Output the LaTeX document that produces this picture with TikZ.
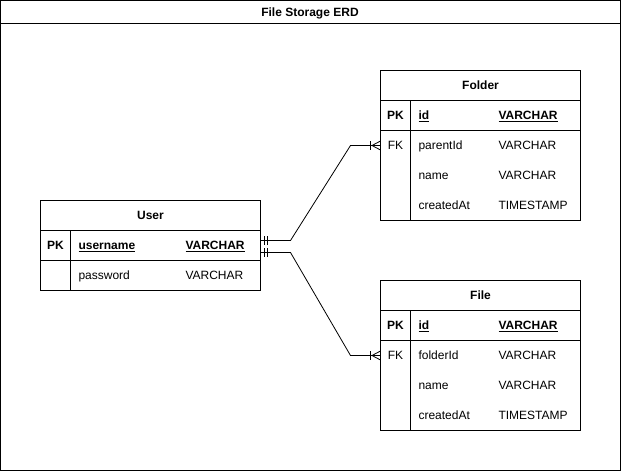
\documentclass[tikz,border=0pt]{standalone}
\usepackage{fontspec}
\setmainfont{Liberation Sans}
\usetikzlibrary{calc}
\begin{document}
\begin{tikzpicture}[x=1pt,y=-1pt,line width=1pt,
  txt/.style={inner sep=0pt,font=\fontsize{12}{14}\selectfont},
  lft/.style={txt,anchor=base west},
  ctr/.style={txt,anchor=base},
  bld/.style={font=\fontsize{12}{14}\selectfont\bfseries},
  tbl/.style={draw,rectangle,inner sep=0pt,outer sep=0pt,line width=1pt},
  rel/.style={draw,line width=0.8pt}]
\useasboundingbox (0,0) rectangle (621,471);
\fill[white] (0,0) rectangle (621,471);
% outer frame
\node[tbl,minimum width=620pt,minimum height=470pt,anchor=north west] (frame) at (0.5,0.5) {};
\draw (0.5,23.5) -- (620.5,23.5);
\node[ctr,bld] (title) at (310,16.3) {File Storage ERD};

% ---------- User ----------
\node[tbl,minimum width=220pt,minimum height=90pt,anchor=north west] (user) at (40.5,200.5) {};
\draw (40.5,230.5) -- (260.5,230.5);
\draw (40.5,260.5) -- (260.5,260.5);
\draw (70.5,230.5) -- (70.5,290.5);
\node[ctr,bld] (userh) at (150.5,219.3) {User};
\node[ctr,bld] (userpk) at (55.5,249.3) {PK};
\node[lft,bld] (uname) at (78,249.3) {\underline{username}};
\node[lft,bld] (unamet) at (185,249.3) {\underline{VARCHAR}};
\node[lft] (upass) at (78,279.3) {password};
\node[lft] (upasst) at (185,279.3) {VARCHAR};

% ---------- Folder ----------
\node[tbl,minimum width=200pt,minimum height=150pt,anchor=north west] (folder) at (380.5,70.5) {};
\draw (380.5,100.5) -- (580.5,100.5);
\draw (380.5,130.5) -- (580.5,130.5);
\draw (410.5,100.5) -- (410.5,220.5);
\node[ctr,bld] (folderh) at (480.5,89.3) {Folder};
\node[ctr,bld] (folderpk) at (395.5,119.3) {PK};
\node[lft,bld] (fid) at (418,119.3) {\underline{id}};
\node[lft,bld] (fidt) at (498,119.3) {\underline{VARCHAR}};
\node[ctr] (folderfk) at (395.5,149.3) {FK};
\node[lft] (fpar) at (418,149.3) {parentId};
\node[lft] (fpart) at (498,149.3) {VARCHAR};
\node[lft] (fnm) at (418,179.3) {name};
\node[lft] (fnmt) at (498,179.3) {VARCHAR};
\node[lft] (fcr) at (418,209.3) {createdAt};
\node[lft] (fcrt) at (498,209.3) {TIMESTAMP};

% ---------- File ----------
\node[tbl,minimum width=200pt,minimum height=150pt,anchor=north west] (file) at (380.5,280.5) {};
\draw (380.5,310.5) -- (580.5,310.5);
\draw (380.5,340.5) -- (580.5,340.5);
\draw (410.5,310.5) -- (410.5,430.5);
\node[ctr,bld] (fileh) at (480.5,299.3) {File};
\node[ctr,bld] (filepk) at (395.5,329.3) {PK};
\node[lft,bld] (gid) at (418,329.3) {\underline{id}};
\node[lft,bld] (gidt) at (498,329.3) {\underline{VARCHAR}};
\node[ctr] (filefk) at (395.5,359.3) {FK};
\node[lft] (gfol) at (418,359.3) {folderId};
\node[lft] (gfolt) at (498,359.3) {VARCHAR};
\node[lft] (gnm) at (418,389.3) {name};
\node[lft] (gnmt) at (498,389.3) {VARCHAR};
\node[lft] (gcr) at (418,419.3) {createdAt};
\node[lft] (gcrt) at (498,419.3) {TIMESTAMP};

% ---------- connectors ----------
\coordinate (ua) at (260.5,240.5);
\coordinate (ub) at (260.5,252.5);
\coordinate (fa) at (380.5,145.5);
\coordinate (fb) at (380.5,355.5);
\draw[rel] (ua) -- ++(30,0) -- (350.5,145.5) -- (fa);
\draw[rel] (ub) -- ++(30,0) -- (350.5,355.5) -- (fb);
% mandatory-one marks
\foreach \c in {ua,ub}{
  \draw[rel] ($(\c)+(3.5,-4.5)$) -- ++(0,9);
  \draw[rel] ($(\c)+(7,-4.5)$) -- ++(0,9);
}
% crow's feet
\foreach \c in {fa,fb}{
  \draw[rel] ($(\c)+(-10,-4.5)$) -- ++(0,9);
  \draw[rel] ($(\c)+(-8.5,0)$) -- ($(\c)+(0,-4.5)$);
  \draw[rel] ($(\c)+(-8.5,0)$) -- ($(\c)+(0,4.5)$);
}
\end{tikzpicture}
\end{document}
